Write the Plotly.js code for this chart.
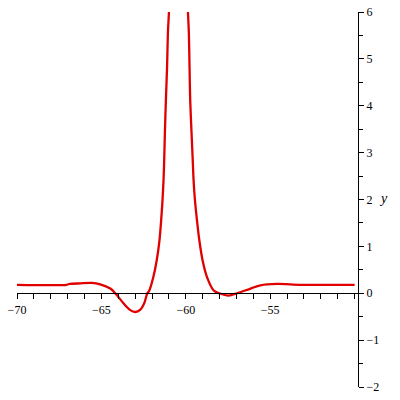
<!DOCTYPE html>
<html>
<head>
<meta charset="utf-8">
<script src="https://cdn.plot.ly/plotly-3.0.1.min.js"></script>
<style>
    html, body { margin: 0; padding: 0; background: #fff; }
    #plot { width: 400px; height: 400px; }
</style>
</head>
<body>
<div id="plot"></div>
<script>
// curve samples
const xVals = [-70, -67.06, -66.87, -66.26, -65.57, -65.07, -64.47, -64.18, -63.68, -63.29,
    -63.0, -62.69, -62.47, -62.28, -62.16, -61.92, -61.72, -61.56, -61.46, -61.38,
    -61.32, -61.28, -61.24, -61.18, -61.11, -61.06, -60.99, -60.86,
    -59.99, -59.88, -59.82, -59.78, -59.74, -59.66, -59.59, -59.54, -59.46, -59.34,
    -59.20, -59.01, -58.75, -58.35, -58.02, -57.46, -56.96, -56.16, -55.58, -54.59,
    -53.18, -50];
const yVals = [0.18, 0.18, 0.20, 0.21, 0.22, 0.19, 0.10, 0, -0.22, -0.36,
    -0.40, -0.35, -0.22, 0, 0.06, 0.35, 0.71, 1.13, 1.56, 1.99,
    2.41, 2.84, 3.42, 4.12, 4.83, 5.56, 6.05, 7.0,
    7.0, 6.05, 5.56, 4.83, 4.12, 3.42, 2.84, 2.41, 1.99, 1.56,
    1.13, 0.71, 0.35, 0.06, 0, -0.05, 0, 0.10, 0.17, 0.20,
    0.18, 0.18];

// axis ticks
const xTicks = [-70, -65, -60, -55];
const yTicks = [-2, -1, 0, 1, 2, 3, 4, 5, 6];

const trace = {
    x: xVals,
    y: yVals,
    type: 'scatter',
    mode: 'lines',
    line: { color: '#e00000', width: 2.3, shape: 'spline', smoothing: 0.8 },
    hoverinfo: 'none'
};

const tickFont = { family: "'Liberation Serif', 'Times New Roman', serif", size: 12, color: '#000' };

const layout = {
    width: 400,
    height: 400,
    margin: { l: 17, r: 42, t: 12, b: 13 },
    paper_bgcolor: '#fff',
    plot_bgcolor: '#fff',
    showlegend: false,
    xaxis: {
        range: [-70, -49.8],
        anchor: 'free',
        position: 0.25,
        showgrid: false,
        zeroline: false,
        showline: true,
        linecolor: '#000',
        linewidth: 1,
        ticks: 'outside',
        ticklen: 5,
        tickcolor: '#000',
        tickvals: xTicks,
        ticktext: xTicks.map(v => '\u2212' + Math.abs(v)),
        tickfont: tickFont,
        minor: { dtick: 1, tick0: -70, ticks: 'outside', ticklen: 5, tickcolor: '#000', showgrid: false }
    },
    yaxis: {
        range: [-2, 6],
        anchor: 'free',
        position: 1,
        side: 'right',
        showgrid: false,
        zeroline: false,
        showline: true,
        linecolor: '#000',
        linewidth: 1,
        ticks: 'outside',
        ticklen: 5,
        tickcolor: '#000',
        tickvals: yTicks,
        ticktext: yTicks.map(v => v < 0 ? '\u2212' + Math.abs(v) : String(v)),
        tickfont: tickFont,
        minor: { dtick: 0.5, tick0: 0, ticks: 'outside', ticklen: 4, tickcolor: '#000', showgrid: false }
    },
    annotations: [{
        text: '<i>y</i>',
        xref: 'paper',
        yref: 'y',
        x: 1,
        y: 2,
        xshift: 32,
        yshift: 1,
        showarrow: false,
        font: { family: "'Liberation Serif', 'Times New Roman', serif", size: 14, color: '#000' }
    }]
};

Plotly.newPlot('plot', [trace], layout, { displayModeBar: false, staticPlot: true });
</script>
</body>
</html>
